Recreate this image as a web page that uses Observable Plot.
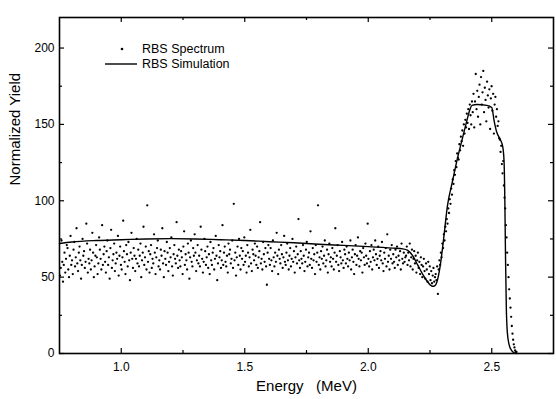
<!DOCTYPE html>
<html>
<head>
<meta charset="utf-8">
<script src="https://cdn.jsdelivr.net/npm/d3@7"></script>
<script src="https://cdn.jsdelivr.net/npm/@observablehq/plot@0.6"></script>
<style>
  html, body { margin: 0; padding: 0; background: white; }
  #chart { width: 556px; height: 399px; }
</style>
</head>
<body>
<div id="chart"></div>
<script>
// ---- Data ----
// Measured RBS spectrum, split into energy segments (MeV) with evenly spaced channels
const segStart = [0.752, 2.153, 2.273, 2.423, 2.533];
const segEnd   = [2.150, 2.270, 2.420, 2.530, 2.600];
const specA = [
51,56,74,60,47,58,66,53,62,71,69,55,50,64,77,58,61,52,68,73,
57,63,82,59,54,66,70,61,49,58,75,64,67,56,60,85,72,53,62,59,
68,55,61,79,66,50,57,64,71,63,52,59,76,68,62,55,84,58,65,70,
60,53,67,74,58,63,49,69,81,56,61,65,72,54,59,66,62,77,51,64,
70,58,55,63,87,67,60,52,71,65,57,73,61,48,66,79,62,56,69,64,
54,62,75,59,68,57,64,72,50,61,66,83,58,63,70,55,97,60,67,53,
65,71,56,62,59,78,66,52,63,69,74,57,61,55,68,64,82,59,50,67,
62,58,73,66,54,60,69,63,76,57,51,65,71,62,59,86,64,56,68,61,
57,67,63,52,70,80,58,65,61,55,72,66,49,63,74,60,57,69,64,78,
66,54,61,71,59,64,57,83,68,62,53,60,75,67,58,63,70,56,65,52,
73,61,58,66,69,55,62,77,64,48,59,71,63,67,56,61,84,58,66,70,
60,57,64,53,72,65,68,59,62,74,56,98,61,66,51,63,70,58,75,64,
55,69,62,67,58,76,60,64,53,71,66,57,63,81,59,54,68,65,61,72,
64,58,70,56,63,67,86,59,62,55,73,65,60,69,57,45,66,71,62,58,
69,61,54,74,63,57,66,60,79,64,52,68,62,59,71,65,56,63,77,60,
58,66,72,61,55,64,69,57,62,75,60,67,53,63,70,59,65,88,61,56,
67,62,59,71,64,54,60,68,73,57,63,66,58,80,62,56,69,61,65,52,
71,60,66,97,58,63,55,67,62,70,59,64,74,57,61,68,53,65,72,60,
63,57,69,62,55,66,82,60,64,71,58,54,67,63,59,73,61,56,68,65,
59,70,62,57,66,61,74,55,63,68,60,52,65,71,58,64,76,62,57,67,
61,66,53,69,63,58,72,64,59,85,62,57,67,60,71,55,63,68,61,74,
65,58,62,70,56,64,67,61,73,59,54,66,62,69,57,78,60,64,55,68,
62,71,59,65,60,56,68,63,70,58,64,61,67,55,72,62,59,66,60,63
];
const specB = [64,70,58,66,61,72,57,63,68,55,62,67,59,64,53,61,66,56,60,52,
63,58,50,57,62,54,49,59,55,47,60,52,57,48,54,46,51,56,47,50];
const specC = [52,48,57,39,55,61,58,66,63,72,69,78,74,83,80,88,85,95,92,101,
98,108,104,114,111,120,117,126,122,131,128,127,137,133,142,139,146,136,150,144,
153,148,157,151,160,147,163,156,150,165];
const specD = [158,170,148,165,183,160,172,155,168,176,150,181,163,171,185,158,174,166,
152,178,169,161,173,147,167,175,159,170,144,163,168,155,160,149,152,141];
const specE = [140,132,136,124,118,126,110,102,95,84,76,66,58,50,42,36,30,24,18,13,9,6,4,2,1,1];

// Simulation curve
const simE = [0.75,0.80,0.90,1.00,1.10,1.20,1.30,1.40,1.50,1.60,1.70,1.80,1.90,2.00,2.10,2.14,2.16,2.18,2.20,2.22,2.24,2.26,2.27,2.28,2.29,2.30,2.31,2.32,2.34,2.36,2.38,2.40,2.41,2.42,2.44,2.48,2.50,2.51,2.52,2.535,2.545,2.55,2.553,2.556,2.559,2.563,2.57,2.58,2.59,2.60];
const simY = [72,73,74,74.5,75,75.2,75,74.5,74,73.2,72.5,71.5,70.8,70,69,68.5,67.5,64,58,52,47,44,44.5,48,56,68,82,96,112,127,140,153,159,162.5,163,162.5,161,152,145,140,135,125,100,60,30,14,6,2,0.5,0];

// Axis ticks and labels
const xMajor = [1.0, 1.5, 2.0, 2.5];
const xMinor = [1.25, 1.75, 2.25];
const yMajor = [0, 50, 100, 150, 200];
const yMinor = [25, 75, 125, 175];
const xTitle = "Energy\u00a0\u00a0\u00a0(MeV)";
const yTitle = "Normalized Yield";
const legendLabels = ["RBS Spectrum", "RBS Simulation"];

// ---- Build tables ----
const segs = [specA, specB, specC, specD, specE];
const spec = [];
segs.forEach((vals, s) => {
  vals.forEach((v, i) => spec.push({e: segStart[s] + (segEnd[s] - segStart[s]) * i / (vals.length - 1), y: v}));
});
const sim = simE.map((e, i) => ({e, y: simY[i]}));

const W = 556, H = 399, mL = 59, mR = 3, mT = 17, mB = 46;
const iW = W - mL - mR, iH = H - mT - mB;
const maj = 5, mino = 3;

const chart = Plot.plot({
  width: W, height: H,
  marginLeft: mL, marginRight: mR, marginTop: mT, marginBottom: mB,
  style: {fontFamily: "'Liberation Sans', Arial, sans-serif", fontSize: "12px", background: "white", color: "black"},
  x: {domain: [0.75, 2.75], axis: null},
  y: {domain: [0, 220], axis: null},
  marks: [
    Plot.dot(spec, {x: "e", y: "y", r: 1.15, fill: "black", stroke: "none"}),
    Plot.line(sim, {x: "e", y: "y", stroke: "black", strokeWidth: 1.4, curve: "monotone-x"}),
    // inward ticks, bottom/top
    Plot.ruleX(xMajor, {x: d => d, insetTop: iH - maj, stroke: "black", strokeWidth: 1.2}),
    Plot.ruleX(xMinor, {x: d => d, insetTop: iH - mino, stroke: "black", strokeWidth: 1.2}),
    Plot.ruleX(xMajor, {x: d => d, insetBottom: iH - maj, stroke: "black", strokeWidth: 1.2}),
    Plot.ruleX(xMinor, {x: d => d, insetBottom: iH - mino, stroke: "black", strokeWidth: 1.2}),
    // inward ticks, left/right
    Plot.ruleY(yMajor, {y: d => d, insetRight: iW - maj, stroke: "black", strokeWidth: 1.2}),
    Plot.ruleY(yMinor, {y: d => d, insetRight: iW - mino, stroke: "black", strokeWidth: 1.2}),
    Plot.ruleY(yMajor, {y: d => d, insetLeft: iW - maj, stroke: "black", strokeWidth: 1.2}),
    Plot.ruleY(yMinor, {y: d => d, insetLeft: iW - mino, stroke: "black", strokeWidth: 1.2}),
    Plot.frame({stroke: "black", strokeWidth: 1.6}),
    Plot.axisX(xMajor, {tickSize: 0, tickPadding: 9, tickFormat: d => d.toFixed(1), label: null, fontSize: 12}),
    Plot.axisY(yMajor, {tickSize: 0, tickPadding: 5, tickFormat: d => String(d), label: null, fontSize: 12}),
    Plot.text([xTitle], {frameAnchor: "bottom", dy: 37, fontSize: 15, text: d => d}),
    Plot.text([yTitle], {frameAnchor: "left", dx: -44, rotate: -90, fontSize: 15, text: d => d})
  ]
});

document.getElementById("chart").appendChild(chart);

// Legend inside the plot area
const svg = d3.select(chart.tagName.toLowerCase() === "svg" ? chart : chart.querySelector("svg"));
const lg = svg.append("g")
  .attr("font-family", "'Liberation Sans', Arial, sans-serif")
  .attr("font-size", 12.5)
  .attr("text-anchor", "start")
  .attr("fill", "black");
lg.append("circle").attr("cx", 122).attr("cy", 49).attr("r", 1.3).attr("fill", "black");
lg.append("text").attr("x", 142).attr("y", 49).attr("dy", "0.35em").text(legendLabels[0]);
lg.append("line").attr("x1", 105).attr("x2", 137).attr("y1", 64).attr("y2", 64).attr("stroke", "black").attr("stroke-width", 1.4);
lg.append("text").attr("x", 142).attr("y", 64).attr("dy", "0.35em").text(legendLabels[1]);
</script>
</body>
</html>
